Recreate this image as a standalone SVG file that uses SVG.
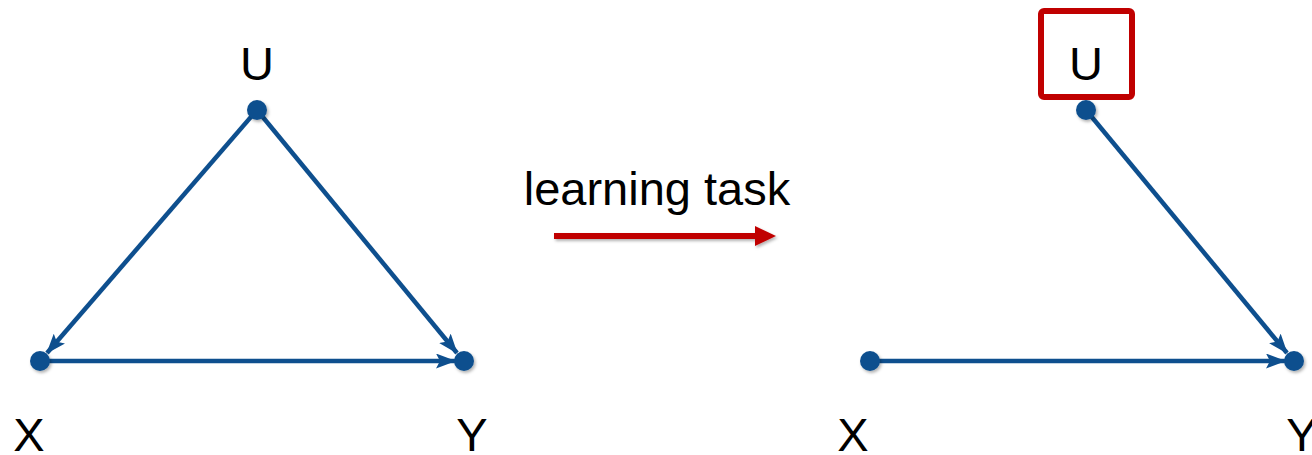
<svg xmlns="http://www.w3.org/2000/svg" width="1312" height="455" viewBox="0 0 1312 455">
<defs>
<style>
.lbl{font-family:"Liberation Sans",Arial,Helvetica,sans-serif;font-size:47px;fill:#000;text-anchor:middle}
.edge{stroke:#0E4F8E;stroke-width:4.5;fill:none}
.node{fill:#0E4F8E;filter:url(#sh)}
</style>
<filter id="sh" x="-50%" y="-50%" width="200%" height="200%">
<feDropShadow dx="1.5" dy="2" stdDeviation="1.5" flood-color="#000" flood-opacity="0.3"/>
</filter>
<filter id="sh2" filterUnits="userSpaceOnUse" x="540" y="215" width="250" height="40">
<feDropShadow dx="1.5" dy="2" stdDeviation="1.5" flood-color="#000" flood-opacity="0.3"/>
</filter>
<marker id="ab" viewBox="0 0 20 15" refX="19" refY="7.5" markerWidth="20" markerHeight="15" markerUnits="userSpaceOnUse" orient="auto">
<path d="M0,0 L20,7.5 L0,15 L4,7.5 z" fill="#0E4F8E"/>
</marker>
</defs>
<rect width="1312" height="455" fill="#fff"/>
<g id="connectors">
<line class="edge" x1="257" y1="110" x2="47" y2="353" marker-end="url(#ab)"/>
<line class="edge" x1="257" y1="110" x2="457" y2="353" marker-end="url(#ab)"/>
<line class="edge" x1="40" y1="361" x2="455" y2="361" marker-end="url(#ab)"/>
<line class="edge" x1="1086" y1="110" x2="1287" y2="353" marker-end="url(#ab)"/>
<line class="edge" x1="870" y1="361" x2="1285" y2="361" marker-end="url(#ab)"/>
<g filter="url(#sh2)" fill="#C00000">
<rect x="554" y="233" width="204" height="6"/>
<polygon points="755,226 776,236 755,246"/>
</g>
</g>
<g id="U1"><circle class="node" cx="257" cy="110" r="10"/><text class="lbl" x="257" y="80">U</text></g>
<g id="X1"><circle class="node" cx="40" cy="361" r="10"/><text class="lbl" x="29" y="451">X</text></g>
<g id="Y1"><circle class="node" cx="464" cy="361" r="10"/><text class="lbl" x="472" y="451">Y</text></g>
<g id="task"><text class="lbl" x="657" y="205">learning task</text></g>
<g id="U2"><circle class="node" cx="1086" cy="110" r="10"/><rect x="1041" y="11" width="91" height="86" rx="3" fill="none" stroke="#C00000" stroke-width="6"/><text class="lbl" x="1086" y="80">U</text></g>
<g id="X2"><circle class="node" cx="870" cy="361" r="10"/><text class="lbl" x="853" y="451">X</text></g>
<g id="Y2"><circle class="node" cx="1294" cy="361" r="10"/><text class="lbl" x="1302" y="451">Y</text></g>
</svg>
